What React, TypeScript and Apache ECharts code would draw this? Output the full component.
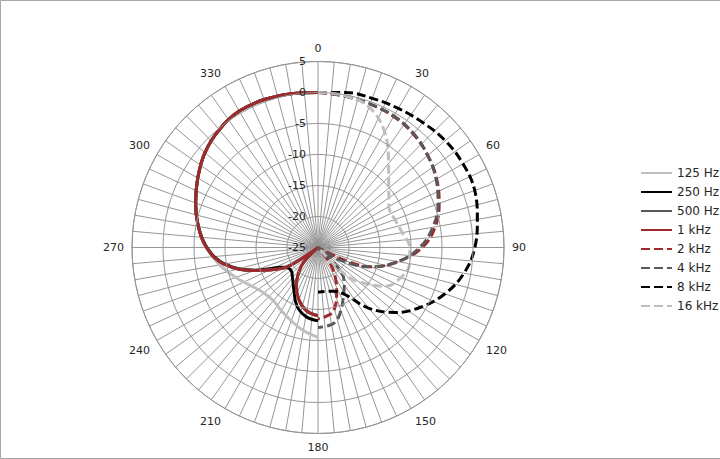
import React, { useEffect, useRef } from 'react';
import * as echarts from 'echarts';

// Radial axis (dB) and angular ticks
const radiusMin = -25;
const radiusMax = 5;
const radiusStep = 5;
const angleStep = 5;
const angleLabelStep = 30;

const seriesNames = ['125 Hz', '250 Hz', '500 Hz', '1 kHz', '2 kHz', '4 kHz', '8 kHz', '16 kHz'];

// Low frequencies: left half (180..360 deg)
const angles125 = [180, 190, 200, 210, 220, 230, 240, 250, 260, 270, 280, 290, 300, 310, 320, 330, 340, 350, 360];
const values125 = [-10.5, -11.4, -12.4, -13.2, -13.8, -13.6, -12.6, -10.9, -8.9, -7.0, -5.4, -4.0, -2.6, -1.2, -0.2, 0.4, 0.4, 0.2, 0];

const angles250 = [180, 190, 200, 210, 220, 230, 240, 250, 260, 270, 280, 290, 300, 310, 320, 330, 340, 350, 360];
const values250 = [-13.2, -13.7, -15.0, -17.2, -18.6, -19.3, -18.6, -14.3, -9.7, -7.1, -5.4, -4.0, -2.6, -1.2, -0.2, 0.4, 0.4, 0.2, 0];

const angles500 = [180, 190, 200, 210, 220, 225, 230, 235, 240, 250, 260, 270, 280, 290, 300, 310, 320, 330, 340, 350, 360];
const values500 = [-14.0, -14.6, -16.0, -18.0, -20.5, -22.0, -25, -23.0, -18.2, -14.2, -9.6, -7.0, -5.4, -4.0, -2.6, -1.2, -0.2, 0.4, 0.4, 0.2, 0];

const angles1k = [180, 190, 200, 210, 220, 225, 230, 235, 240, 250, 260, 270, 280, 290, 300, 310, 320, 330, 340, 350, 360];
const values1k = [-14.0, -14.6, -16.0, -18.0, -20.5, -22.0, -25, -23.0, -18.2, -14.2, -9.6, -7.0, -5.4, -4.0, -2.6, -1.2, -0.2, 0.4, 0.4, 0.2, 0];

// High frequencies: right half (0..180 deg)
const angles2k = [0, 10, 20, 30, 40, 50, 60, 70, 80, 90, 100, 110, 115, 121, 132, 143, 150, 157, 166, 175, 180];
const values2k = [0, -0.2, -0.4, -0.6, -1.1, -1.9, -2.9, -4.2, -5.8, -8.2, -11.9, -15.9, -20.0, -25, -25, -21.7, -19.4, -17.3, -14.5, -13.7, -13.5];

const angles4k = [0, 10, 20, 30, 40, 50, 60, 70, 80, 90, 100, 110, 120, 127, 136, 145, 153, 160, 166, 172, 180];
const values4k = [0, -0.2, -0.4, -0.5, -1.0, -1.9, -3.0, -4.4, -6.2, -8.6, -11.9, -15.9, -21.0, -25, -19.8, -17.6, -16.0, -14.2, -12.8, -12.3, -12.1];

const angles8k = [0, 10, 20, 30, 40, 50, 60, 70, 80, 90, 100, 110, 120, 130, 140, 150, 160, 170, 180];
const values8k = [0, 0.4, 0.6, 0.9, 1.3, 1.8, 2.0, 1.9, 1.1, 0.3, -1.1, -3.2, -5.8, -8.7, -12.2, -16.2, -17.5, -17.8, -17.8];

const angles16k = [0, 10, 20, 30, 40, 50, 60, 70, 80, 90, 100, 110, 120, 130, 135, 140, 160, 180];
const values16k = [0, -0.1, -0.9, -3.5, -7.3, -10.1, -11.8, -11.8, -11.2, -10.2, -10.0, -10.8, -12.5, -16.4, -19.0, -25, -25, -25];

const seriesAngles = [angles125, angles250, angles500, angles1k, angles2k, angles4k, angles8k, angles16k];
const seriesValues = [values125, values250, values500, values1k, values2k, values4k, values8k, values16k];
const seriesColors = ['#bfbfbf', '#000000', '#595959', '#9e2a2b', '#9e2a2b', '#595959', '#000000', '#bfbfbf'];
const seriesDashed = [false, false, false, false, true, true, true, true];

export default function App() {
  const ref = useRef<HTMLDivElement>(null);

  useEffect(() => {
    document.body.style.margin = '0';
    if (!ref.current) return;
    const chart = echarts.init(ref.current, null, { renderer: 'svg' });
    const gridColor = '#969696';
    const textColor = '#262626';
    const font = 'DejaVu Sans';

    const series = seriesNames.map((name, i) => ({
      name,
      type: 'line',
      coordinateSystem: 'polar',
      data: seriesAngles[i].map((a, j) => [seriesValues[i][j], a]),
      smooth: 0.4,
      symbol: 'none',
      clip: false,
      lineStyle: {
        color: seriesColors[i],
        width: 3,
        type: seriesDashed[i] ? [9, 4] : 'solid',
        cap: 'butt',
      },
      itemStyle: { color: seriesColors[i] },
    }));

    chart.setOption({
      animation: false,
      backgroundColor: '#ffffff',
      textStyle: { fontFamily: font },
      graphic: [
        {
          type: 'rect',
          shape: { x: 0.5, y: 0.5, width: 720, height: 458 },
          style: { fill: 'none', stroke: '#a6a6a6', lineWidth: 1 },
          silent: true,
          z: 100,
        },
      ],
      polar: { center: [318, 247.5], radius: 186 },
      angleAxis: {
        type: 'value',
        min: 0,
        max: 360,
        interval: angleStep,
        startAngle: 90,
        clockwise: true,
        axisLine: { show: true, lineStyle: { color: gridColor, width: 1 } },
        axisTick: { show: false },
        axisLabel: {
          show: true,
          margin: 8,
          color: textColor,
          fontSize: 11,
          fontFamily: font,
          formatter: (v: number) => (v % angleLabelStep === 0 && v < 360 ? String(v) : ''),
        },
        splitLine: { show: true, lineStyle: { color: gridColor, width: 1 } },
      },
      radiusAxis: {
        type: 'value',
        min: radiusMin,
        max: radiusMax,
        interval: radiusStep,
        axisLine: { show: false },
        axisTick: { show: false },
        axisLabel: { show: true, margin: 12, color: textColor, fontSize: 11, fontFamily: font },
        splitLine: { show: true, lineStyle: { color: gridColor, width: 1 } },
        z: 10,
      },
      legend: {
        orient: 'vertical',
        left: 640,
        top: 167,
        padding: 0,
        itemWidth: 31,
        itemHeight: 14,
        itemGap: 7,
        itemStyle: { opacity: 0 },
        textStyle: { color: textColor, fontSize: 12, fontFamily: font },
        data: seriesNames,
      },
      series,
    });

    return () => chart.dispose();
  }, []);

  return <div ref={ref} style={{ width: 720, height: 459 }} />;
}
